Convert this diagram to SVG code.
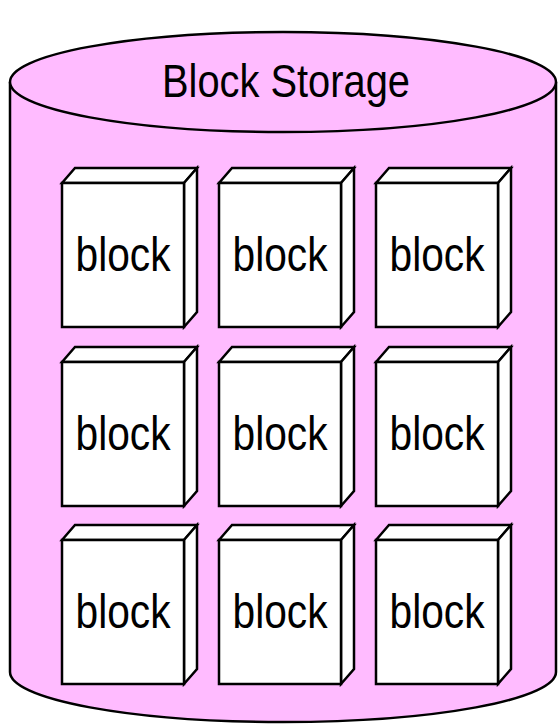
<svg xmlns="http://www.w3.org/2000/svg" width="558" height="725" viewBox="0 0 558 725">
<style>
.cyl{fill:#ffbbff;stroke:#000;stroke-width:2.5}
.face{fill:#fff;stroke:#000;stroke-width:2.5;stroke-linejoin:miter}
.lbl{font-family:"Liberation Sans",Arial,Helvetica,sans-serif;font-size:48px;fill:#000;text-anchor:middle}
.ttl{font-family:"Liberation Sans",Arial,Helvetica,sans-serif;font-size:47px;fill:#000;text-anchor:middle}
</style>
<defs>
<g id="cube">
<polygon class="face" points="0,0 13,-15 135,-15 122,0"/>
<polygon class="face" points="122,0 135,-15 135,129 122,144"/>
<rect class="face" x="0" y="0" width="122" height="144"/>
</g>
</defs>
<g id="storage">
<path class="cyl" d="M10,82 L10,672 A273,50 0 0 0 556,672 L556,82"/>
<ellipse class="cyl" cx="283" cy="82" rx="273" ry="50"/>
<text class="ttl" x="286" y="97" textLength="248" lengthAdjust="spacingAndGlyphs">Block Storage</text>
</g>
<g id="block1" transform="translate(62,183)"><use href="#cube"/><text class="lbl" x="61" y="88" textLength="95" lengthAdjust="spacingAndGlyphs">block</text></g>
<g id="block2" transform="translate(219,183)"><use href="#cube"/><text class="lbl" x="61" y="88" textLength="95" lengthAdjust="spacingAndGlyphs">block</text></g>
<g id="block3" transform="translate(376,183)"><use href="#cube"/><text class="lbl" x="61" y="88" textLength="95" lengthAdjust="spacingAndGlyphs">block</text></g>
<g id="block4" transform="translate(62,362)"><use href="#cube"/><text class="lbl" x="61" y="88" textLength="95" lengthAdjust="spacingAndGlyphs">block</text></g>
<g id="block5" transform="translate(219,362)"><use href="#cube"/><text class="lbl" x="61" y="88" textLength="95" lengthAdjust="spacingAndGlyphs">block</text></g>
<g id="block6" transform="translate(376,362)"><use href="#cube"/><text class="lbl" x="61" y="88" textLength="95" lengthAdjust="spacingAndGlyphs">block</text></g>
<g id="block7" transform="translate(62,540)"><use href="#cube"/><text class="lbl" x="61" y="88" textLength="95" lengthAdjust="spacingAndGlyphs">block</text></g>
<g id="block8" transform="translate(219,540)"><use href="#cube"/><text class="lbl" x="61" y="88" textLength="95" lengthAdjust="spacingAndGlyphs">block</text></g>
<g id="block9" transform="translate(376,540)"><use href="#cube"/><text class="lbl" x="61" y="88" textLength="95" lengthAdjust="spacingAndGlyphs">block</text></g>
<g id="connectors"/>
</svg>
